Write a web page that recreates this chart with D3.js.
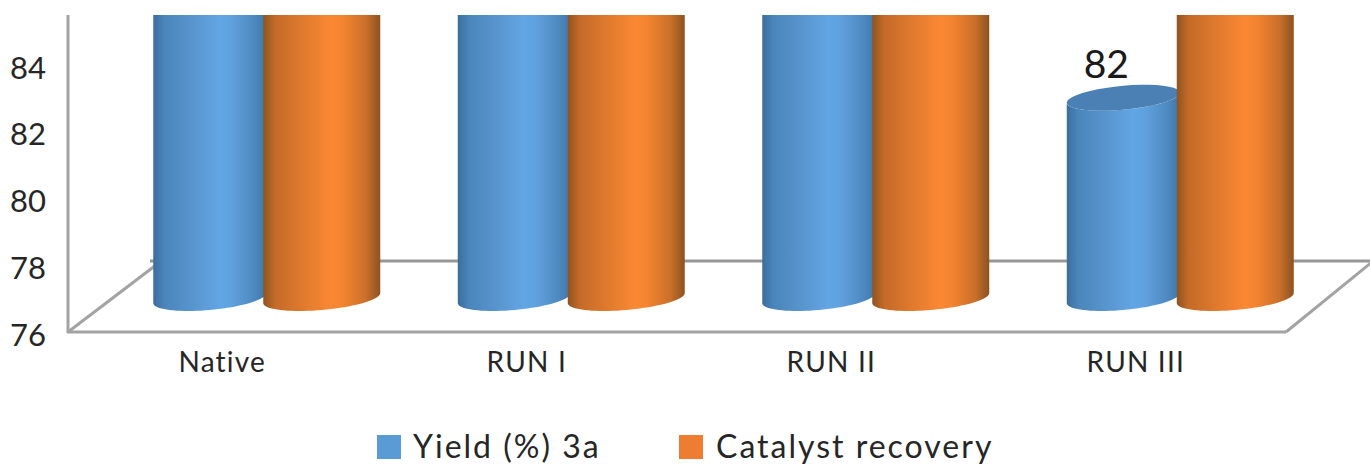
<!DOCTYPE html>
<html><head><meta charset="utf-8">
<script src="https://d3js.org/d3.v7.min.js"></script>
<style>html,body{margin:0;padding:0;background:#fff}svg{display:block}
text{font-family:"Lato",sans-serif;fill:#262626}</style></head>
<body><svg id="c" width="1370" height="465"></svg>
<script>
const categories = ["Native","RUN I","RUN II","RUN III"];
const seriesNames = ["Yield (%) 3a","Catalyst recovery"];
// Tops of all bars but one are cropped off by the picture; those values are estimates above the crop.
const yieldValues = [92,92,92,82];
const recoveryValues = [92,92,92,92];
const yTicks = [76,78,80,82,84];
const seriesColors = ["#5b9bd5","#ed7d31"];

const svg = d3.select("#c");
const defs = svg.append("defs");
defs.append("clipPath").attr("id","crop").append("rect").attr("x",0).attr("y",15).attr("width",1370).attr("height",450);
const grads = [
 ["#3c6d9c","#4a85bb","#5590c8","#62a5e4","#60a2e0","#4f8bc2","#3f76a8"],
 ["#8f5320","#c46a28","#d9762c","#fa8833","#f48430","#c96f2a","#8c5222"]
];
grads.forEach((g,i)=>{
  const lg = defs.append("linearGradient").attr("id","g"+i);
  const st=[0,0.1,0.28,0.58,0.68,0.88,1];
  g.forEach((c,k)=>lg.append("stop").attr("offset",st[k]).attr("stop-color",c));
});

const root = svg.append("g");
const x = d3.scaleBand().domain(categories).range([68,1286]);
const y = d3.scaleLinear().domain([76,84]).range([332,65]);
const depthX = 46, depthY = 29;
const unit = y(76)-y(77);
const sub = d3.scaleBand().domain([0,1]).range([-113,107]);

// floor
const floor = root.append("g").attr("fill","none").attr("stroke","#a3a3a3").attr("stroke-width",3);
floor.append("line").attr("x1",68).attr("x2",68).attr("y1",15).attr("y2",y(76)+1);
floor.append("line").attr("x1",67).attr("x2",1286).attr("y1",y(76)).attr("y2",y(76));
floor.append("line").attr("x1",68).attr("y1",y(76)).attr("x2",160).attr("y2",262);
floor.append("line").attr("x1",1286).attr("y1",y(76)).attr("x2",1372).attr("y2",262);
floor.append("line").attr("x1",150).attr("y1",261).attr("x2",1370).attr("y2",261).attr("stroke","#979797");

// cylinders, outlines sampled from a sheared ellipse
const ry = 12, tilt = 10;
const barsG = root.append("g").attr("clip-path","url(#crop)");
const base = y(76)-depthY;
const line = d3.line();
const rim = (cx,yc,rad,from,to) => d3.range(0,41).map(k=>{
  const t = from+(to-from)*k/40;
  return [cx+rad*Math.cos(t), yc-tilt/2*Math.cos(t)+ry*Math.sin(t)];
});
[yieldValues,recoveryValues].forEach((vals,s)=>{
  vals.forEach((v,i)=>{
    const cx0 = x(categories[i])+x.bandwidth()/2+depthX;
    const w = s?117:113, rad = w/2;
    const left = cx0+sub(s), cx = left+rad;
    const topC = base-(v-76)*unit-tilt/2, botC = base-tilt/2;
    const g = barsG.append("g");
    // bottom rim runs left→right through the front, then top rim back right→left through the front
    const outline = rim(cx,botC,rad,Math.PI,0).concat(rim(cx,topC,rad,0,Math.PI));
    g.append("path").attr("d",line(outline)+"Z").attr("fill",`url(#g${s})`);
    g.append("path").attr("d",line(rim(cx,topC,rad,0,2*Math.PI))+"Z").attr("fill",s?"#c0662a":"#4a80b4");
    if(v<84){
      root.append("text").attr("x",cx-17).attr("y",topC-20).attr("text-anchor","middle")
        .attr("font-size",39).style("fill","#1a1a1a").text(v);
    }
  });
});

// axes
const ay = root.append("g").attr("transform","translate(46,0)")
  .call(d3.axisLeft(y).tickValues(yTicks).tickSize(0).tickPadding(0));
ay.select(".domain").remove();
ay.selectAll("text").attr("font-size",31).attr("dy","0.42em").style("font-family",'"Lato",sans-serif').style("fill","#262626");

const ax = root.append("g").attr("transform","translate(2,"+y(76)+")")
  .call(d3.axisBottom(x).tickSize(0).tickPadding(20));
ax.select(".domain").remove();
ax.selectAll("text").attr("font-size",28).attr("letter-spacing",1.2).style("font-family",'"Lato",sans-serif').style("fill","#262626");

// legend
const legX=[377,679], legT=[413,716];
seriesNames.forEach((n,i)=>{
  root.append("rect").attr("x",legX[i]).attr("y",435).attr("width",24).attr("height",24).attr("fill",seriesColors[i]);
  root.append("text").attr("x",legT[i]).attr("y",458).attr("font-size",32).attr("letter-spacing",2).text(n);
});
</script></body></html>
